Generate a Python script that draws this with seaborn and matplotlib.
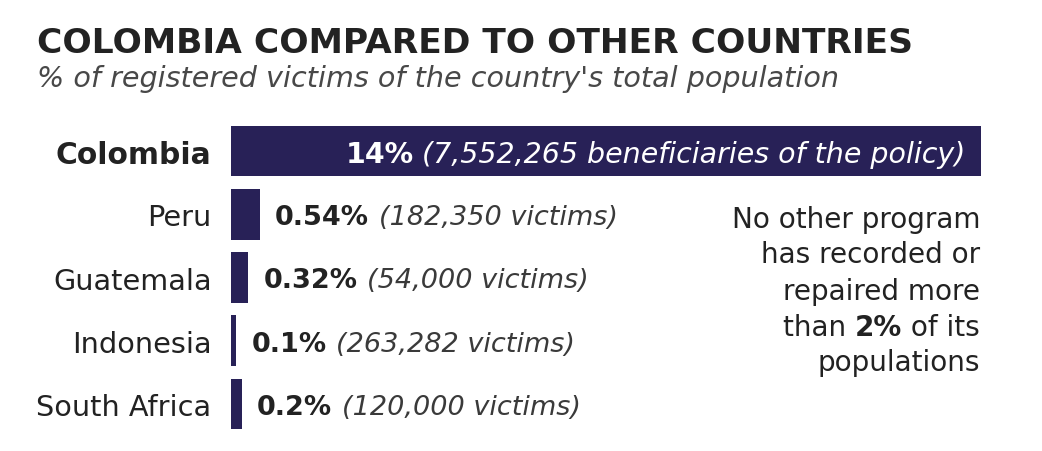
import matplotlib
matplotlib.use("Agg")
import matplotlib.pyplot as plt
import seaborn as sns
import pandas as pd

# ---- data ----
countries = ["Colombia", "Peru", "Guatemala", "Indonesia", "South Africa"]
pct = [14, 0.54, 0.32, 0.1, 0.2]
pct_labels = ["14%", "0.54%", "0.32%", "0.1%", "0.2%"]
detail_labels = ["(7,552,265 beneficiaries of the policy)", "(182,350 victims)",
                 "(54,000 victims)", "(263,282 victims)", "(120,000 victims)"]
title = "COLOMBIA COMPARED TO OTHER COUNTRIES"
subtitle = "% of registered victims of the country's total population"
note_lines = ["No other program", "has recorded or", "repaired more", None, "populations"]
note_line4 = ["than ", "2%", " of its"]

sns.set_theme(style="white")
plt.rcParams['font.family'] = ['DejaVu Sans']

BAR = "#282157"
DARK = "#222222"
SUB = "#484848"

W, H = 1042, 452
fig = plt.figure(figsize=(W / 100, H / 100), dpi=100)
fig.patch.set_facecolor("white")
ax = fig.add_axes([231 / W, 1 - 436.6 / H, 750 / W, (436.6 - 120.4) / H])

df = pd.DataFrame({"country": countries, "pct": pct})
sns.barplot(data=df, x="pct", y="country", color=BAR, saturation=1, width=0.8,
            linewidth=0, ax=ax)
ax.set_xlim(0, 14)
ax.set_ylim(4.5, -0.5)
sns.despine(ax=ax, left=True, bottom=True, top=True, right=True)
ax.set_xticks([])
ax.set_xlabel("")
ax.set_ylabel("")
ax.set_yticks(range(len(countries)))
ax.set_yticklabels(countries)
ax.tick_params(axis='y', length=0, pad=14, labelsize=20.7, labelcolor=DARK)
ax.get_yticklabels()[0].set_fontweight('bold')
ax.get_yticklabels()[0].set_fontsize(21.4)

# Colombia label inside bar (right aligned)
t_it = ax.annotate(detail_labels[0], xy=(pct[0], 0), xytext=(-11, 0),
                   textcoords='offset points', ha='right', va='center_baseline',
                   fontsize=20.5, fontstyle='italic', color='white')
ax.annotate(pct_labels[0], xy=(0, 0), xycoords=(t_it, 'data'), xytext=(-6, 0),
            textcoords='offset points', ha='right', va='center_baseline',
            fontsize=20.5, fontweight='bold', color='white')

for i in range(1, len(countries)):
    t1 = ax.annotate(pct_labels[i], xy=(pct[i], i), xytext=(11, 0),
                     textcoords='offset points', ha='left', va='center_baseline',
                     fontsize=19.5, fontweight='bold', color=DARK)
    ax.annotate(detail_labels[i], xy=(1, i), xycoords=(t1, 'data'), xytext=(7, 0),
                textcoords='offset points', ha='left', va='center_baseline',
                fontsize=19.5, fontstyle='italic', color='#3a3a3a')

# title & subtitle
fig.text(37 / W, 1 - 53 / H, title, fontsize=24.8, fontweight='bold', color=DARK,
         ha='left', va='baseline')
fig.text(37 / W, 1 - 87 / H, subtitle, fontsize=20.6, fontstyle='italic',
         color=SUB, ha='left', va='baseline')

# side note
xr = 980 / W
ys = [217, 252, 289, 325, 360]
NS = 20.1
for line, y in zip(note_lines, ys):
    if line is not None:
        fig.text(xr, 1 - y / H, line, fontsize=NS, color=DARK, ha='right',
                 va='center_baseline')
    else:
        yf = 1 - y / H
        a = fig.text(xr, yf, note_line4[2], fontsize=NS, color=DARK, ha='right',
                     va='center_baseline')
        b = ax.annotate(note_line4[1], xy=(0, yf), xycoords=(a, 'figure fraction'),
                        ha='right', va='center_baseline', fontsize=NS,
                        fontweight='bold', color=DARK, annotation_clip=False)
        ax.annotate(note_line4[0], xy=(0, yf), xycoords=(b, 'figure fraction'),
                    ha='right', va='center_baseline', fontsize=NS, color=DARK,
                    annotation_clip=False)

fig.savefig("out.png", dpi=100, facecolor="white")
